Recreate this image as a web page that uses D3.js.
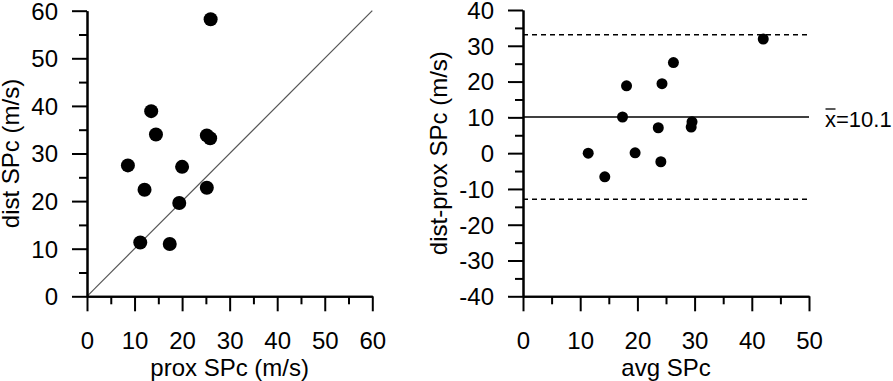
<!DOCTYPE html>
<html>
<head>
<meta charset="utf-8">
<script src="https://cdn.jsdelivr.net/npm/d3@7"></script>
<style>
  body { margin: 0; background: #fff; }
  svg { display: block; font-family: Arial, "Liberation Sans", sans-serif; }
  .axis path, .axis line { stroke: #000; stroke-width: 2; }
  .axis text { font-size: 24px; fill: #000; }
  .title { font-size: 24px; fill: #000; }
</style>
</head>
<body>
<svg id="chart" width="893" height="381"></svg>
<script>
// left panel: distal vs proximal
const proxSPc = [26.0, 13.5, 14.5, 8.6, 12.1, 20.0, 19.4, 25.2, 25.9, 25.2, 11.2, 17.4]
const distSPc = [58.2, 38.9, 34.0, 27.5, 22.4, 27.2, 19.6, 33.8, 33.2, 22.8, 11.3, 11.0]
// right panel: Bland-Altman
const avgSPc = [42.0, 26.3, 24.3, 18.1, 17.4, 23.65, 19.6, 29.55, 29.4, 24.1, 11.4, 14.3]
const diffSPc = [31.9, 25.3, 19.4, 18.8, 10.1, 7.1, 0.1, 8.75, 7.3, -2.4, 0.0, -6.6]
const meanDiff = 10.1
const limits = [33.1, -12.9]

const leftMajor = [0, 10, 20, 30, 40, 50, 60]
const leftMinor = [5, 15, 25, 35, 45, 55]
const rightXMajor = [0, 10, 20, 30, 40, 50]
const rightXMinor = [5, 15, 25, 35, 45]
const rightYMajor = [-40, -30, -20, -10, 0, 10, 20, 30, 40]
const rightYMinor = [-35, -25, -15, -5, 5, 15, 25, 35]

const svg = d3.select('#chart')
const fmt = d => String(d)

function drawAxes(g, x, y, xMajor, xMinor, yMajor, yMinor) {
  const x0 = x.range()[0]
  const y0 = y.range()[0]
  // minor ticks first, no labels
  g.append('g').attr('class', 'axis').attr('transform', `translate(0,${y0})`)
    .call(d3.axisBottom(x).tickValues(xMinor).tickSize(8).tickSizeOuter(0).tickFormat(''))
  g.append('g').attr('class', 'axis').attr('transform', `translate(${x0},0)`)
    .call(d3.axisLeft(y).tickValues(yMinor).tickSize(8).tickSizeOuter(0).tickFormat(''))

  const xa = g.append('g').attr('class', 'axis').attr('transform', `translate(0,${y0})`)
    .call(d3.axisBottom(x).tickValues(xMajor).tickSize(15).tickSizeOuter(0).tickFormat(fmt))
  xa.selectAll('text').attr('y', 44).attr('dy', '0.35em')

  const ya = g.append('g').attr('class', 'axis').attr('transform', `translate(${x0},0)`)
    .call(d3.axisLeft(y).tickValues(yMajor).tickSize(15).tickSizeOuter(0).tickFormat(fmt))
  ya.selectAll('text').attr('x', -29).attr('dy', '0.35em')
}

// ---- left panel
const xL = d3.scaleLinear().domain([0, 60]).range([87, 372.3])
const yL = d3.scaleLinear().domain([0, 60]).range([296.3, 10.7])
const gL = svg.append('g')

gL.append('line')
  .attr('x1', xL(0)).attr('y1', yL(0))
  .attr('x2', xL(60)).attr('y2', yL(60))
  .attr('stroke', '#555').attr('stroke-width', 1.2)

drawAxes(gL, xL, yL, leftMajor, leftMinor, leftMajor, leftMinor)

gL.selectAll('circle')
  .data(proxSPc.map((p, i) => [p, distSPc[i]]))
  .join('circle')
  .attr('cx', d => xL(d[0]))
  .attr('cy', d => yL(d[1]))
  .attr('r', 7)
  .attr('fill', '#000')

gL.append('text').attr('class', 'title')
  .attr('x', (xL(0) + xL(60)) / 2).attr('y', 376)
  .attr('text-anchor', 'middle')
  .text('prox SPc (m/s)')
gL.append('text').attr('class', 'title')
  .attr('transform', `translate(19,${(yL(0) + yL(60)) / 2}) rotate(-90)`)
  .attr('text-anchor', 'middle')
  .text('dist SPc (m/s)')

// ---- right panel
const xR = d3.scaleLinear().domain([0, 50]).range([523, 809])
const yR = d3.scaleLinear().domain([-40, 40]).range([296.3, 10])
const gR = svg.append('g')

drawAxes(gR, xR, yR, rightXMajor, rightXMinor, rightYMajor, rightYMinor)

gR.append('line')
  .attr('x1', xR(0)).attr('x2', xR(50))
  .attr('y1', yR(meanDiff)).attr('y2', yR(meanDiff))
  .attr('stroke', '#000').attr('stroke-width', 1.6)

gR.selectAll('line.limit')
  .data(limits)
  .join('line')
  .attr('class', 'limit')
  .attr('x1', xR(0)).attr('x2', xR(50) + 1)
  .attr('y1', d => yR(d)).attr('y2', d => yR(d))
  .attr('stroke', '#000').attr('stroke-width', 1.6)
  .attr('stroke-dasharray', '5,4')

gR.selectAll('circle')
  .data(avgSPc.map((a, i) => [a, diffSPc[i]]))
  .join('circle')
  .attr('cx', d => xR(d[0]))
  .attr('cy', d => yR(d[1]))
  .attr('r', 5.5)
  .attr('fill', '#000')

// mean label, overline drawn by hand over the x
const labelY = yR(meanDiff) + 10
const xbar = gR.append('text').attr('class', 'title')
  .attr('x', 825).attr('y', labelY)
  .style('font-size', '22px')
  .text('x')
const xw = xbar.node().getComputedTextLength()
gR.append('line')
  .attr('x1', 825.5).attr('x2', 825 + xw - 0.5)
  .attr('y1', labelY - 18).attr('y2', labelY - 18)
  .attr('stroke', '#000').attr('stroke-width', 1.3)
gR.append('text').attr('class', 'title')
  .attr('x', 825 + xw).attr('y', labelY)
  .style('font-size', '22px')
  .text('=' + meanDiff)

gR.append('text').attr('class', 'title')
  .attr('x', (xR(0) + xR(50)) / 2).attr('y', 376)
  .attr('text-anchor', 'middle')
  .text('avg SPc')
gR.append('text').attr('class', 'title')
  .attr('transform', `translate(447,${(yR(-40) + yR(40)) / 2}) rotate(-90)`)
  .attr('text-anchor', 'middle')
  .text('dist-prox SPc (m/s)')
</script>
</body>
</html>
